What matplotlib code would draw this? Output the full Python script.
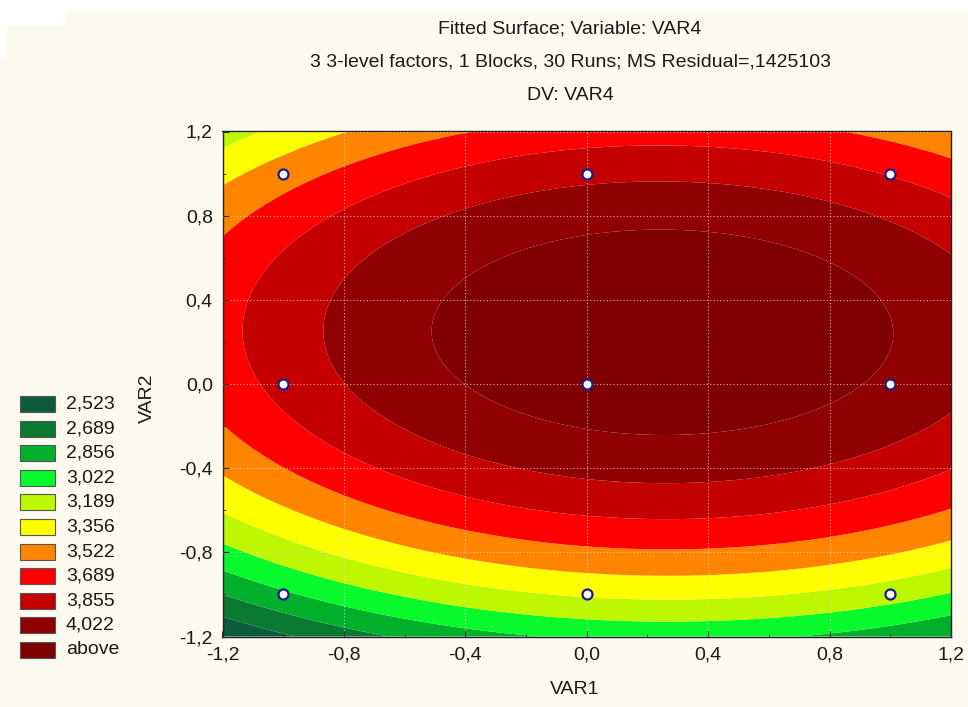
import numpy as np
import matplotlib
matplotlib.use("Agg")
import matplotlib.pyplot as plt
from matplotlib.patches import Rectangle

plt.rcParams['font.family'] = ['Liberation Sans', 'DejaVu Sans']

# ---- fitted second-order model (coded units): VAR4 = f(VAR1, VAR2) ----
b_const = 4.1137
b_x = 0.1262
b_y = 0.2993
b_xx = -0.2494
b_yy = -0.6053
b_xy = -0.0074

# ---- contour levels / legend ----
level_bounds = [2.523, 2.689, 2.856, 3.022, 3.189, 3.356, 3.522, 3.689, 3.855, 4.022]
legend_labels = ['2,523', '2,689', '2,856', '3,022', '3,189', '3,356',
                 '3,522', '3,689', '3,855', '4,022', 'above']
level_colors = ['#0d5b3d', '#0a7a33', '#00b02a', '#08fa2c', '#bdf700', '#ffff00',
                '#ff8400', '#ff0000', '#c40000', '#900000', '#800000']

# ---- design points ----
design_x = [-1, 0, 1, -1, 0, 1, -1, 0, 1]
design_y = [-1, -1, -1, 0, 0, 0, 1, 1, 1]

# ---- ticks ----
tick_values = [-1.2, -0.8, -0.4, 0.0, 0.4, 0.8, 1.2]
tick_labels = ['-1,2', '-0,8', '-0,4', '0,0', '0,4', '0,8', '1,2']

title_lines = ['Fitted Surface; Variable: VAR4',
               '3 3-level factors, 1 Blocks, 30 Runs; MS Residual=,1425103',
               'DV: VAR4']

W, H = 968, 707
bg = '#fcf9ef'
fig = plt.figure(figsize=(W / 100, H / 100), dpi=100, facecolor=bg)

# white scan margins
for (x0, y0, w, h) in [(0, 0, W, 11), (0, 0, 66, 26), (0, 0, 7, 60)]:
    fig.add_artist(Rectangle((x0 / W, 1 - (y0 + h) / H), w / W, h / H,
                             transform=fig.transFigure, facecolor='white',
                             edgecolor='none', zorder=0))

ax_l, ax_r, ax_t, ax_b = 222.5, 951, 131.5, 636.5
ax = fig.add_axes([ax_l / W, 1 - ax_b / H, (ax_r - ax_l) / W, (ax_b - ax_t) / H])

gx = np.linspace(-1.2, 1.2, 361)
gy = np.linspace(-1.2, 1.2, 361)
X, Y = np.meshgrid(gx, gy)
Z = (b_const + b_x * X + b_y * Y + b_xx * X ** 2 + b_yy * Y ** 2 + b_xy * X * Y)

levels = [min(Z.min(), level_bounds[0]) - 1] + level_bounds + [max(Z.max(), level_bounds[-1]) + 1]
ax.contourf(X, Y, Z, levels=levels, colors=level_colors, antialiased=True, zorder=1)

ax.scatter(design_x, design_y, s=52, facecolor='white', edgecolor='#1c1c8a',
           linewidth=1.6, zorder=5)

ax.set_xlim(-1.2, 1.2)
ax.set_ylim(-1.2, 1.2)
ax.set_xticks(tick_values)
ax.set_xticklabels(tick_labels)
ax.set_yticks(tick_values)
ax.set_yticklabels(tick_labels)
ax.set_xticks(np.arange(-1.2, 1.21, 0.2), minor=True)
ax.set_yticks(np.arange(-1.2, 1.21, 0.2), minor=True)
ax.tick_params(which='major', direction='in', length=4, width=0.8, color='#333333',
               labelsize=14, pad=7, labelcolor='#1a1a1a')
ax.tick_params(which='minor', direction='in', length=2, width=0.6, color='#333333')
ax.grid(True, which='major', linestyle=(0, (1, 2)), color='#f2d9c8', linewidth=0.8,
        alpha=0.8, zorder=2)
ax.set_axisbelow(False)
for s in ax.spines.values():
    s.set_linewidth(1.0)
    s.set_color('#222222')

fig.text(575 / W, 1 - 690 / H, 'VAR1', ha='center', va='center', fontsize=14, color='#1a1a1a')
fig.text(147 / W, 1 - 398 / H, 'VAR2', ha='center', va='center', rotation=90,
         fontsize=14, color='#1a1a1a')

title_y = [29, 62, 96]
for t, yy in zip(title_lines, title_y):
    fig.text(570 / W, 1 - yy / H, t, ha='center', va='center', fontsize=14, color='#1a1a1a')

# legend
box_x, box_w, box_h = 20, 35, 16
top0, step = 396, 24.6
for i, (lab, col) in enumerate(zip(legend_labels, level_colors)):
    ty = top0 + i * step
    fig.add_artist(Rectangle((box_x / W, 1 - (ty + box_h) / H), box_w / W, box_h / H,
                             transform=fig.transFigure, facecolor=col,
                             edgecolor='#555555', linewidth=0.8))
    fig.text(66 / W, 1 - (ty + box_h / 2) / H, lab, ha='left', va='center',
             fontsize=14, color='#1a1a1a')

fig.savefig('out.png', dpi=100, facecolor=bg)
